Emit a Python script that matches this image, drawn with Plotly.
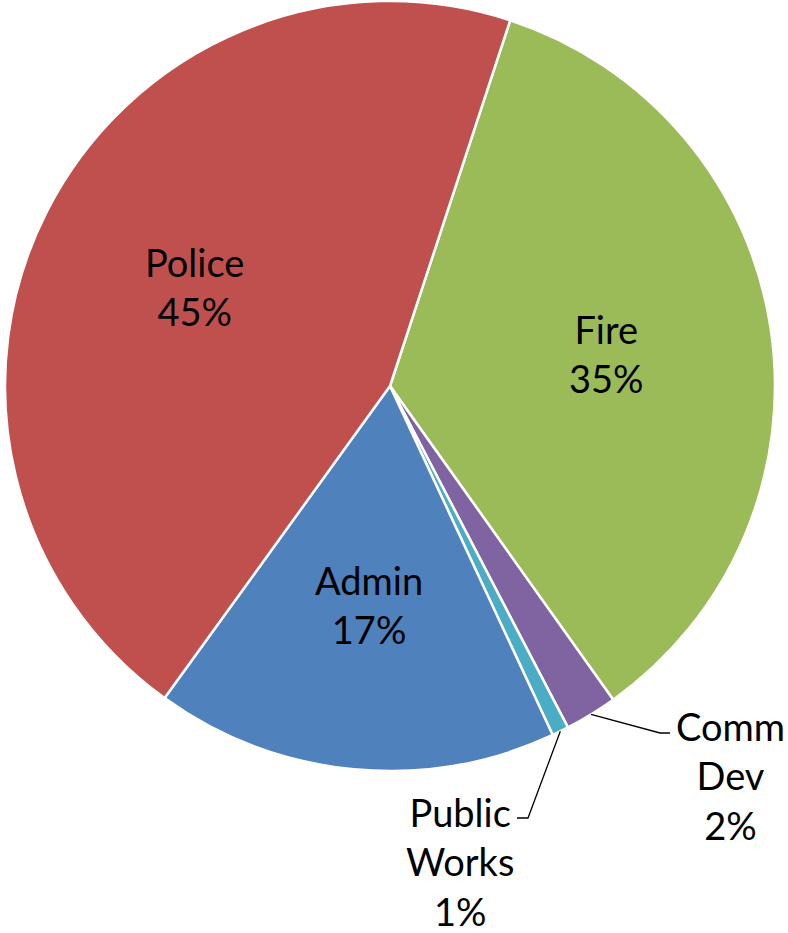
import math
import plotly.graph_objects as go

labels = ["Fire", "Comm<br>Dev", "Public<br>Works", "Admin", "Police"]
values = [35.1, 2.2, 0.7, 16.9, 45.1]
colors = ["#9BBB59", "#8064A2", "#4BACC6", "#4F81BD", "#C0504D"]
inside = [True, False, False, True, True]

W, H = 788, 933
CX, CY, R = 390, 386, 385
ROT = 18.2
FONT = dict(family="Lato, Open Sans, sans-serif", size=38, color="black")

fig = go.Figure(go.Pie(
    labels=labels, values=values, sort=False, direction="clockwise", rotation=ROT,
    marker=dict(colors=colors, line=dict(color="white", width=2.5)),
    textinfo="none",
    domain=dict(x=[(CX - R) / W, (CX + R) / W],
                y=[max(0, 1 - (CY + R) / H), min(1, 1 - (CY - R) / H)]),
    showlegend=False, hoverinfo="label+percent",
))

def to_paper(px, py):
    return px / W, 1 - py / H

# outside label block centres (pixels) and leader-line elbow offsets
outside_pos = {1: (730, 775), 2: (460, 861)}
elbow = {1: ((-70, -42), (-60, -42)), 2: ((68, -43), (57, -43))}

total = sum(values)
cum = 0
anns, shapes = [], []
for i, v in enumerate(values):
    mid = ROT + 360 * (cum + v / 2) / total
    cum += v
    th = math.radians(mid)
    txt = f"{labels[i]}<br>{round(100 * v / total)}%"
    if inside[i]:
        px = CX + 0.57 * R * math.sin(th)
        py = CY - 0.57 * R * math.cos(th)
        x, y = to_paper(px, py)
    else:
        ex = CX + R * math.sin(th)
        ey = CY - R * math.cos(th)
        tx, ty = outside_pos[i]
        x, y = to_paper(tx, ty)
        (e1x, e1y), (e2x, e2y) = elbow[i]
        pts = [to_paper(ex, ey), to_paper(tx + e1x, ty + e1y), to_paper(tx + e2x, ty + e2y)]
        path = "M {} {} L {} {} L {} {}".format(*[c for p in pts for c in p])
        shapes.append(dict(type="path", xref="paper", yref="paper", path=path,
                           line=dict(color="black", width=1.3)))
    anns.append(dict(x=x, y=y, xref="paper", yref="paper", text=txt,
                     xanchor="center", yanchor="middle",
                     showarrow=False, align="center", font=FONT))

fig.update_layout(
    width=W, height=H, margin=dict(l=0, r=0, t=0, b=0),
    paper_bgcolor="white", plot_bgcolor="white", annotations=anns, shapes=shapes,
)
fig.write_html("out.html", config={"displayModeBar": False},
               post_script="document.body.style.margin='0';")
